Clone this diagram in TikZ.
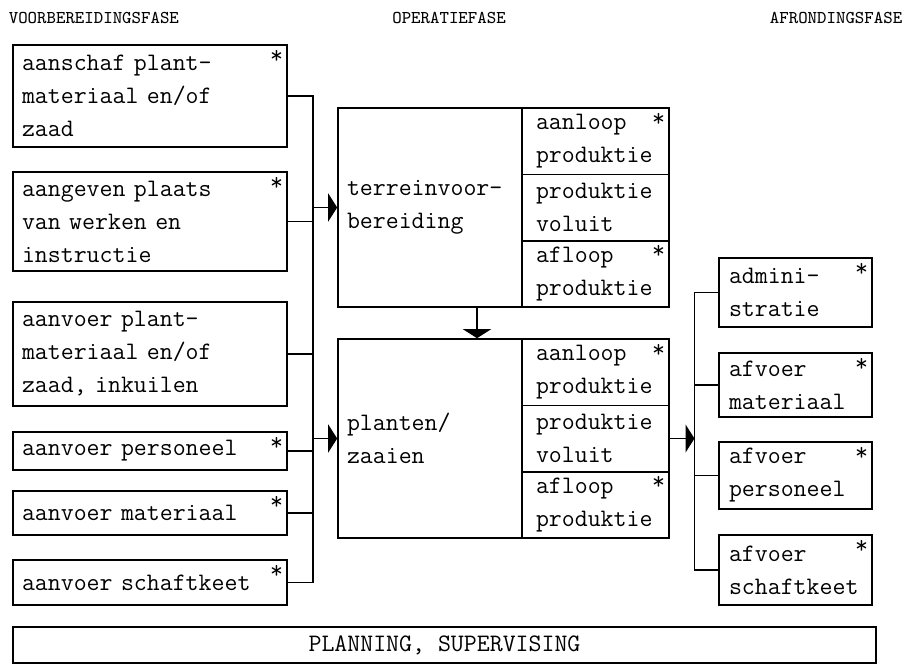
\documentclass[tikz,border=0pt]{standalone}
\usetikzlibrary{arrows.meta}

\newcommand*{\boxfont}{\ttfamily\fontsize{12.57}{16.5}\selectfont}
\newcommand*{\fasefont}{\ttfamily\fontsize{9}{10}\selectfont}

\begin{document}
\begin{tikzpicture}
[
	x=0.5pt, y=-0.5pt,
	line width=0.8pt,
	box/.style={draw,inner ysep=0pt,inner xsep=4.5pt,align=left,font=\boxfont},
	lbox/.style={box,text width=128pt,minimum height=#1},
	mainbox/.style={box,text width=83pt,minimum height=99.5pt},
	subbox/.style={box,inner xsep=7pt,text width=59.5pt,minimum height=33.2pt},
	rbox/.style={box,inner xsep=5pt,text width=66.5pt,minimum height=#1},
	ast/.style={label={[anchor=north east,inner xsep=2pt,inner ysep=2.5pt,font=\boxfont]north east:*}},
	fase/.style={inner sep=0pt,font=\fasefont},
	arr/.style={-{Triangle[width=14pt,length=4.5pt]}}
]

	\useasboundingbox (0,0) rectangle (911,666);

	% fasen
	\node[fase,anchor=west] (hvoor) at (8,18) {VOORBEREIDINGSFASE};
	\node[fase] (hoper) at (449,18) {OPERATIEFASE};
	\node[fase,anchor=east] (hafr) at (903,18) {AFRONDINGSFASE};

	% voorbereiding
	\node[lbox=51pt,ast] (aanschaf) at (150,96) {aanschaf plant-\\materiaal en/of\\zaad};
	\node[lbox=49.5pt,ast] (aangeven) at (150,221.5) {aangeven plaats\\van werken en\\instructie};
	\node[lbox=52pt] (aanvplant) at (150,354) {aanvoer plant-\\materiaal en/of\\zaad, inkuilen};
	\node[lbox=19pt,ast] (aanvpers) at (150,451) {aanvoer personeel};
	\node[lbox=22pt,ast] (aanvmat) at (150,513) {aanvoer materiaal};
	\node[lbox=22.5pt,ast] (aanvschaft) at (150,582.5) {aanvoer schaftkeet};

	% operatie
	\node[mainbox] (terrein) at (430,207.5) {terreinvoor-\\bereiding};
	\node[subbox,ast] (taanloop) at (595.5,141.2) {aanloop\\produktie};
	\node[subbox] (tvoluit) at (595.5,207.5) {produktie\\voluit};
	\node[subbox,ast] (tafloop) at (595.5,273.8) {afloop\\produktie};

	\node[mainbox] (planten) at (430,438.5) {planten/\\zaaien};
	\node[subbox,ast] (paanloop) at (595.5,372.2) {aanloop\\produktie};
	\node[subbox] (pvoluit) at (595.5,438.5) {produktie\\voluit};
	\node[subbox,ast] (pafloop) at (595.5,504.8) {afloop\\produktie};

	% afronding
	\node[rbox=34.5pt,ast] (admin) at (795.5,292.5) {admini-\\stratie};
	\node[rbox=32pt,ast] (afvmat) at (795.5,385) {afvoer\\materiaal};
	\node[rbox=33.5pt,ast] (afvpers) at (795.5,475.5) {afvoer\\personeel};
	\node[rbox=35pt,ast] (afvschaft) at (795.5,570) {afvoer\\schaftkeet};

	\node[box,minimum width=431.5pt,minimum height=18pt] (planning) at (444.5,645) {PLANNING, SUPERVISING};

	% verbindingen
	\coordinate (lbus) at (313,0);
	\coordinate (rbus) at (694.5,0);

	\draw (aanschaf.east) -- (aanschaf.east -| lbus) -- (aanvschaft.east -| lbus) -- (aanvschaft.east);
	\foreach \bx in {aangeven,aanvplant,aanvpers,aanvmat}
		\draw (\bx.east) -- (\bx.east -| lbus);
	\draw[arr] (terrein.west -| lbus) -- (terrein.west);
	\draw[arr] (planten.west -| lbus) -- (planten.west);

	\draw[arr] ([xshift=23.5pt]terrein.south) -- ([xshift=23.5pt]planten.north);

	\draw[arr] (pvoluit.east) -- (pvoluit.east -| rbus);
	\draw (admin.west) -- (admin.west -| rbus) -- (afvschaft.west -| rbus) -- (afvschaft.west);
	\foreach \bx in {afvmat,afvpers}
		\draw (\bx.west) -- (\bx.west -| rbus);

\end{tikzpicture}
\end{document}
